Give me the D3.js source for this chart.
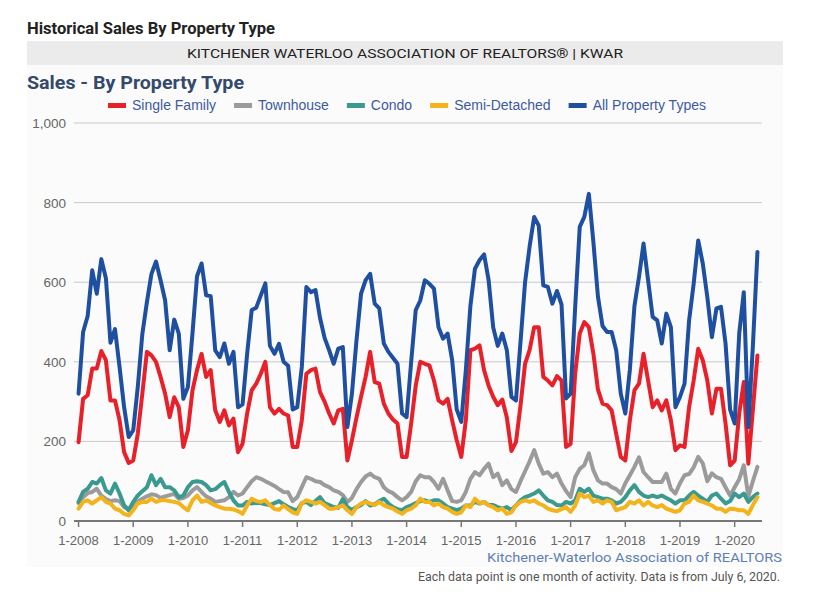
<!DOCTYPE html>
<html><head><meta charset="utf-8">
<script src="https://cdn.jsdelivr.net/npm/d3@7"></script>
<style>body{margin:0;background:#fff} svg{display:block}</style>
</head><body>
<svg id="c" width="816" height="601"></svg>
<script>
// ---- data (monthly, Jan 2008 .. Jun 2020) ----
const tickLabels = ["1-2008","1-2009","1-2010","1-2011","1-2012","1-2013","1-2014","1-2015","1-2016","1-2017","1-2018","1-2019","1-2020"];
const tickIndex = [0,12,24,36,48,60,72,84,96,108,120,132,144];
const yTicks = [0,200,400,600,800,1000];
const seriesNames = ["Single Family","Townhouse","Condo","Semi-Detached","All Property Types"];
const seriesColors = ["#e8202a","#9b9b9b","#3a9a8f","#f2b31b","#1f4fa0"];

const singleFamily = [198,307,316,383,383,427,404,303,303,253,173,146,
152,219,320,425,416,400,362,320,261,311,286,186,
228,328,379,420,362,379,278,249,278,240,257,173,
194,270,328,345,370,400,286,270,282,270,265,186,
186,253,370,379,383,324,300,270,245,278,282,152,
203,260,312,362,425,349,345,295,270,255,245,161,
161,245,340,400,395,391,353,303,295,307,253,203,
161,253,429,433,441,379,340,312,291,305,260,176,
198,290,395,430,487,487,362,353,341,364,353,186,
194,370,471,500,487,420,330,295,291,278,219,161,
152,253,328,345,420,353,286,303,278,303,253,178,
190,186,286,353,433,404,353,270,332,332,245,140,
152,270,349,144,280,416];

const townhouse = [45,60,70,73,81,64,55,50,52,50,35,30,40,48,56,62,67,65,58,62,65,68,
56,58,64,77,85,73,62,56,48,50,52,60,73,64,69,85,100,110,106,100,94,
88,80,73,72,50,60,85,110,106,100,98,90,85,77,73,65,48,58,80,98,112,
119,110,106,85,75,70,60,52,60,73,100,115,110,110,98,81,106,77,50,48,52,73,
106,123,115,131,144,110,119,90,102,80,73,100,125,150,178,144,119,123,110,119,94,
75,60,110,131,140,170,127,102,94,94,85,80,69,95,115,136,160,123,110,98,98,
98,119,81,69,95,115,118,135,161,145,100,120,110,106,85,64,85,105,140,62,100,136];

const condo = [48,73,81,98,94,108,77,69,94,69,39,27,48,64,75,85,115,90,106,85,85,
77,60,64,85,98,100,98,90,77,80,90,98,73,52,39,39,48,44,46,45,42,40,
45,50,42,35,30,27,45,48,40,50,60,45,40,35,33,55,35,28,35,40,50,
39,42,50,56,44,35,30,27,35,39,45,50,52,48,52,52,44,35,31,27,31,39,
39,48,44,48,40,40,35,31,35,27,39,52,60,64,69,77,64,52,48,40,39,
48,44,52,81,73,81,64,60,56,56,52,44,48,60,77,90,73,64,60,64,60,
64,58,52,44,52,52,64,73,64,56,48,64,69,56,44,50,69,60,69,48,60,69];

const semiDetached = [31,48,52,44,52,60,48,44,31,27,18,14,27,44,48,48,56,48,52,52,50,48,
45,35,27,52,64,48,52,45,39,35,31,31,29,25,18,39,56,50,48,52,40,
30,28,39,30,22,18,45,52,48,44,48,40,31,31,35,39,27,18,35,44,48,
44,40,48,40,35,31,24,18,27,31,39,56,48,48,39,44,35,31,23,18,22,39,
35,56,44,48,39,35,27,31,18,22,39,48,52,48,52,44,39,31,27,25,30,
35,23,39,69,60,64,48,52,44,52,48,27,31,35,48,44,52,39,48,39,35,
40,31,27,23,27,44,48,64,52,48,44,39,31,31,23,31,30,27,27,18,40,60];

const allTypes = [320,475,515,630,571,658,610,448,482,387,286,211,
228,337,470,550,621,652,605,554,429,506,471,307,
337,471,615,647,567,565,429,412,446,395,425,286,
293,420,530,536,567,597,440,420,445,400,390,280,
286,387,588,575,580,510,460,429,395,433,437,236,
320,454,571,605,621,546,534,446,425,410,395,270,
261,400,530,554,605,596,584,487,458,471,404,280,
249,379,540,634,655,670,605,487,440,471,429,312,
303,450,600,690,764,742,592,588,546,578,544,308,
320,538,739,764,822,700,563,490,475,475,429,320,
270,380,540,613,697,605,513,504,446,521,487,286,
312,345,504,596,705,647,563,462,534,538,446,280,
245,471,575,236,440,676];

const allSeries = [singleFamily, townhouse, condo, semiDetached, allTypes];

// ---- drawing ----
const svg = d3.select("#c");
const L = 74, R = 762, T = 123, B = 521;

const x = d3.scaleLinear().domain([-1, 150]).range([L, R]);
const y = d3.scaleLinear().domain([0, 1000]).range([B, T]);

// header
svg.append("text").attr("x", 27).attr("y", 34)
  .attr("font-family", "Roboto, sans-serif").attr("font-weight", 700).attr("font-size", 16)
  .attr("fill", "#222").attr("textLength", 248).attr("lengthAdjust", "spacingAndGlyphs")
  .text("Historical Sales By Property Type");

svg.append("rect").attr("x", 27).attr("y", 41).attr("width", 756).attr("height", 24).attr("fill", "#ebebeb");
svg.append("rect").attr("x", 27).attr("y", 65).attr("width", 756).attr("height", 502).attr("fill", "#fbfbfb");

svg.append("text").attr("x", 405).attr("y", 58).attr("text-anchor", "middle")
  .attr("font-family", "Roboto, sans-serif").attr("font-size", 13.5)
  .attr("fill", "#222").attr("textLength", 436).attr("lengthAdjust", "spacingAndGlyphs")
  .text("KITCHENER WATERLOO ASSOCIATION OF REALTORS® | KWAR");

svg.append("text").attr("x", 27).attr("y", 89)
  .attr("font-family", "Roboto, sans-serif").attr("font-weight", 700).attr("font-size", 18)
  .attr("fill", "#34496b").attr("textLength", 217).attr("lengthAdjust", "spacingAndGlyphs")
  .text("Sales - By Property Type");

// legend
let lx = 108;
const lg = svg.append("g");
seriesNames.forEach((name, i) => {
  lg.append("rect").attr("x", lx).attr("y", 103).attr("width", 18).attr("height", 5).attr("fill", seriesColors[i]);
  const t = lg.append("text").attr("x", lx + 24).attr("y", 110)
    .attr("font-family", "'Liberation Sans', Arial, sans-serif").attr("font-size", 14)
    .attr("fill", "#3d5aa0").text(name);
  lx = lx + 24 + t.node().getComputedTextLength() + 18;
});

// grid
svg.append("g").selectAll("line").data(yTicks.filter(d => d > 0)).join("line")
  .attr("x1", L).attr("x2", R).attr("y1", d => y(d)).attr("y2", d => y(d))
  .attr("stroke", "#c9c9c9").attr("stroke-width", 1);

// y labels
svg.append("g").selectAll("text").data(yTicks).join("text")
  .attr("x", 66).attr("y", d => y(d) + 5).attr("text-anchor", "end")
  .attr("font-family", "'Liberation Sans', Arial, sans-serif").attr("font-size", 13.5)
  .attr("fill", "#666").text(d => d3.format(",")(d));

// x axis
const xa = svg.append("g");
xa.append("line").attr("x1", L).attr("x2", R).attr("y1", B).attr("y2", B).attr("stroke", "#777").attr("stroke-width", 2);
xa.selectAll("line.t").data(tickIndex).join("line").attr("class", "t")
  .attr("x1", d => x(d)).attr("x2", d => x(d)).attr("y1", B).attr("y2", B + 6)
  .attr("stroke", "#777").attr("stroke-width", 1.5);
xa.selectAll("text").data(tickIndex).join("text")
  .attr("x", d => x(d)).attr("y", B + 24).attr("text-anchor", "middle")
  .attr("font-family", "'Liberation Sans', Arial, sans-serif").attr("font-size", 13)
  .attr("fill", "#666").text((d, i) => tickLabels[i]);

// lines
const line = d3.line().x((d, i) => x(i)).y(d => y(d));
svg.append("g").selectAll("path").data(allSeries).join("path")
  .attr("d", d => line(d)).attr("fill", "none")
  .attr("stroke", (d, i) => seriesColors[i]).attr("stroke-width", 4)
  .attr("stroke-linejoin", "round").attr("stroke-linecap", "round");

// footer
svg.append("text").attr("x", 782).attr("y", 562).attr("text-anchor", "end")
  .attr("font-family", "Roboto, sans-serif").attr("font-size", 13)
  .attr("fill", "#5f7fb5").attr("textLength", 295).attr("lengthAdjust", "spacingAndGlyphs")
  .text("Kitchener-Waterloo Association of REALTORS");
svg.append("text").attr("x", 780).attr("y", 581).attr("text-anchor", "end")
  .attr("font-family", "Roboto, sans-serif").attr("font-size", 12)
  .attr("fill", "#555").attr("textLength", 362).attr("lengthAdjust", "spacingAndGlyphs")
  .text("Each data point is one month of activity. Data is from July 6, 2020.");
</script>
</body></html>
